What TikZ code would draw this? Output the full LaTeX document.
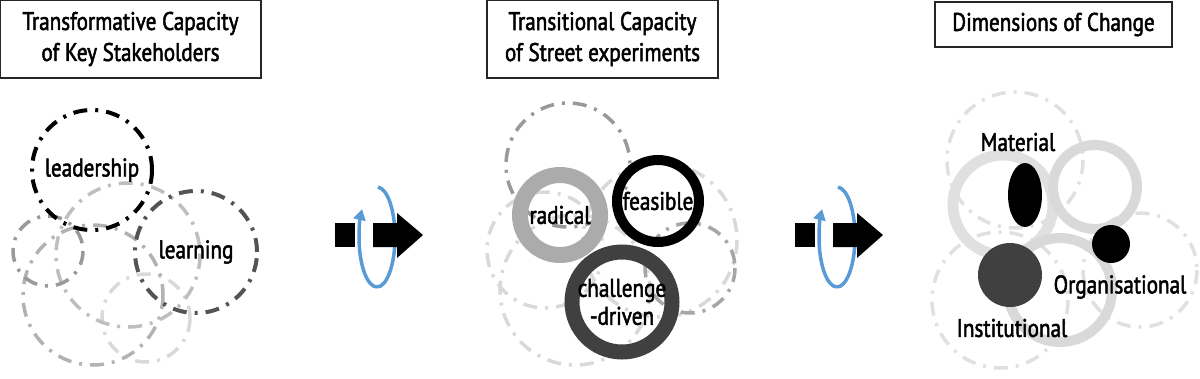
\documentclass[tikz,border=0pt]{standalone}
\usepackage{fontspec}
\setmainfont{PT Sans}[FakeStretch=0.83,FakeBold=2]
\usetikzlibrary{arrows.meta,shapes.geometric}
\definecolor{turnblue}{RGB}{91,155,213}
\tikzset{
  titlebox/.style={draw=black!85,line width=1.2pt,align=center,inner sep=0pt,
    font=\fontsize{25.5}{31}\selectfont},
  lbl/.style={font=\fontsize{25.5}{28}\selectfont,align=center,inner sep=0pt},
  dashring/.style={line width=3.5pt,dash pattern=on 14pt off 8pt on 3pt off 8pt},
  bigring/.style={circle,lbl,draw=#1},
  blob/.style={circle,fill=#1,inner sep=0pt},
  turn/.style={turnblue,line width=3.5pt}
}
\begin{document}
\begin{tikzpicture}[x=1pt,y=-1pt]
\useasboundingbox (0,0) rectangle (1200,378);
% titles
\node[titlebox,minimum width=261pt,minimum height=78pt] (tcap) at (130.5,39)
  {Transformative Capacity\\of Key Stakeholders};
\node[titlebox,minimum width=231pt,minimum height=78pt] (tsexp) at (602.5,39)
  {Transitional Capacity\\of Street experiments};
\node[titlebox,minimum width=237pt,minimum height=45pt] (tdim) at (1053.5,24.5)
  {Dimensions of Change};

% panel 1 -- faint circles
\draw[dashring,black!15] (146,318) circle[radius=44];
\draw[dashring,black!30] (93,295) circle[radius=70];
\draw[dashring,black!25] (128,255) circle[radius=72];
\draw[dashring,black!40] (48,251) circle[radius=35];
\node[bigring=black,dashring,line width=4pt,minimum size=120pt] (lead) at (92,170) {leadership};
\node[bigring=black!67,dashring,line width=4pt,minimum size=122pt] (learn) at (196,252) {learning};

% panel 2 -- faint circles
\draw[dashring,black!15] (575,290) circle[radius=75];
\draw[dashring,black!15] (545,250) circle[radius=58];
\draw[dashring,black!15] (660,240) circle[radius=77];
\draw[dashring,black!35] (690,268) circle[radius=45];
\draw[dashring,black!40] (568,165) circle[radius=62];
\node[bigring=black!33,line width=16pt,minimum size=80pt] (radical) at (560,215) {radical};
\node[bigring=black,line width=10pt,minimum size=82pt] (feasible) at (658,201) {feasible};
\node[bigring=black!75,line width=15pt,minimum size=100pt] (challenge) at (622,302) {challenge\\-driven};

% panel 3 -- faint circles
\draw[dashring,black!12] (1015,160) circle[radius=68];
\draw[dashring,black!12] (1140,270) circle[radius=57];
\draw[dashring,black!12] (1000,300) circle[radius=68];
\draw[line width=11pt,black!12] (1003,205) circle[radius=50];
\draw[line width=10pt,black!15] (1095,187) circle[radius=42];
\draw[line width=10pt,black!15] (1060,290) circle[radius=52];
\node[ellipse,fill=black,minimum width=34pt,minimum height=64pt,inner sep=0pt] (mat) at (1025,195) {};
\node[blob=black,minimum size=38pt] (org) at (1111,244) {};
\node[blob=black!75,minimum size=64pt] (inst) at (1010,275) {};
\node[lbl] (matlbl) at (1018,142) {Material};
\node[lbl] (orglbl) at (1120,287) {Organisational};
\node[lbl] (instlbl) at (1012,328) {Institutional};

% arrows with a turning loop
\foreach \ax in {335,795}{
  \coordinate (loop) at (\ax+42,237);
  \draw[turn] (loop) ++(-87:18 and 50)
    arc[start angle=-87,end angle=90,x radius=18,y radius=50];
  \fill (\ax,223) rectangle (\ax+20,247);
  \fill (\ax+38,223) -- (\ax+62,223) -- (\ax+62,213) -- (\ax+88,235)
    -- (\ax+62,258) -- (\ax+62,247) -- (\ax+38,247) -- cycle;
  \draw[turn,-{Triangle[length=11pt,width=12pt]}] (loop) ++(90:18 and 50)
    arc[start angle=90,end angle=214,x radius=18,y radius=50];
}
\end{tikzpicture}
\end{document}
